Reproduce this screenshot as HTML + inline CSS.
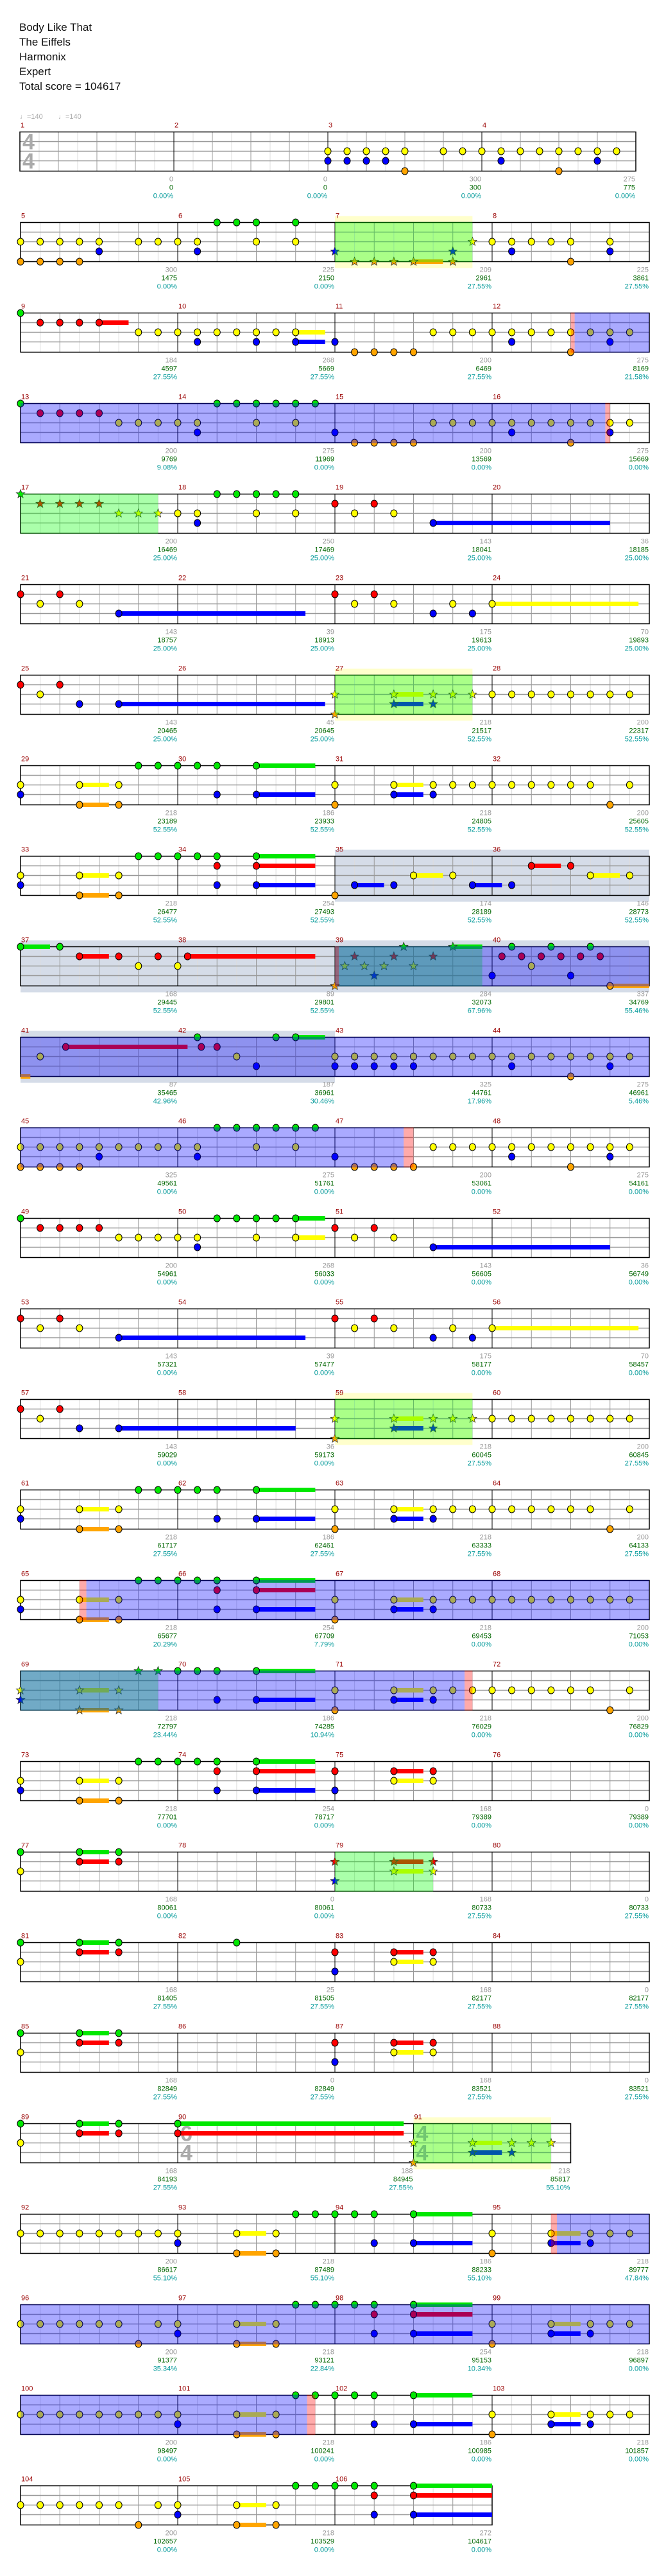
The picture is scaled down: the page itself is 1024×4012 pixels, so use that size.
<!DOCTYPE html>
<html><head><meta charset="utf-8">
<style>
html,body{margin:0;padding:0;background:#fff;}
#c{width:1024px;height:4012px;position:relative;overflow:hidden;}
svg text{font-family:"Liberation Sans Narrow","Liberation Sans",sans-serif;}
</style></head>
<body><div id="c"></div>
<script>
var rows=[
{m:1,x0:31,w:30,ts:[[0,'4','4']],n:"16:yb 17:yb 18:yb 19:yb 20:yo 22:y 23:y 24:y 25:yb 26:y 27:y 28:yo 29:y 30:yb 31:y",s:"",r:"",t:[[0,0,"0.00%"],[0,0,"0.00%"],[300,300,"0.00%"],[275,775,"0.00%"]]},
{m:5,n:"0:yo 1:yo 2:yo 3:yo 4:yb 6:y 7:y 8:y 9:yb 10:g 11:g 12:gy 14:gy 16:b* 17:o* 18:o* 19:o* 20:o* 22:bo* 23:y* 24:y 25:yb 26:y 27:y 28:yo 30:yb",s:"20-21.5:o",r:"Y16-23 G16-23",t:[[300,1475,"0.00%"],[225,2150,"0.00%"],[209,2961,"27.55%"],[225,3861,"27.55%"]]},
{m:9,n:"0:g 1:r 2:r 3:r 4:r 6:y 7:y 8:y 9:yb 10:y 11:y 12:yb 13:y 14:yb 16:b 17:o 18:o 19:o 20:o 21:y 22:y 23:y 24:y 25:yb 26:y 27:y 28:yo 29:y 30:yb 31:y",s:"4-5.5:r 14-15.5:y 14-15.5:b",r:"P28-28.2 B28.2-32",t:[[184,4597,"27.55%"],[268,5669,"27.55%"],[200,6469,"27.55%"],[275,8169,"21.58%"]]},
{m:13,n:"0:g 1:r 2:r 3:r 4:r 5:y 6:y 7:y 8:y 9:yb 10:g 11:g 12:gy 13:g 14:gy 15:g 16:b 17:o 18:o 19:o 20:o 21:y 22:y 23:y 24:y 25:yb 26:y 27:y 28:yo 29:y 30:yb 31:y",s:"",r:"B0-29.76 P29.76-30",t:[[200,9769,"9.08%"],[275,11969,"0.00%"],[200,13569,"0.00%"],[275,15669,"0.00%"]]},
{m:17,n:"0:g* 1:r* 2:r* 3:r* 4:r* 5:y* 6:y* 7:y* 8:y 9:yb 10:g 11:g 12:gy 13:g 14:gy 16:r 17:y 18:r 19:y 21:b",s:"21-30:b",r:"G0-7",t:[[200,16469,"25.00%"],[250,17469,"25.00%"],[143,18041,"25.00%"],[36,18185,"25.00%"]]},
{m:21,n:"0:r 1:y 2:r 3:y 5:b 16:r 17:y 18:r 19:y 21:b 22:y 23:b 24:y",s:"5-14.5:b 24-31.45:y",r:"",t:[[143,18757,"25.00%"],[39,18913,"25.00%"],[175,19613,"25.00%"],[70,19893,"25.00%"]]},
{m:25,n:"0:r 1:y 2:r 3:b 5:b 16:yo* 19:yb* 21:yb* 22:y* 23:y* 24:y 25:y 26:y 27:y 28:y 29:y 30:y 31:y",s:"5-15.5:b 19-20.5:y 19-20.5:b",r:"Y16-23 G16-23",t:[[143,20465,"25.00%"],[45,20645,"25.00%"],[218,21517,"52.55%"],[200,22317,"52.55%"]]},
{m:29,n:"0:yb 3:yo 5:yo 6:g 7:g 8:g 9:g 10:gb 12:gb 16:yo 19:yb 21:yb 22:y 23:y 24:y 25:y 26:y 27:y 28:y 29:y 30:o 31:y",s:"3-4.5:y 3-4.5:o 12-15:g 12-15:b 19-20.5:y 19-20.5:b",r:"",t:[[218,23189,"52.55%"],[186,23933,"52.55%"],[218,24805,"52.55%"],[200,25605,"52.55%"]]},
{m:33,n:"0:yb 3:yo 5:yo 6:g 7:g 8:g 9:g 10:grb 12:grb 16:o 17:b 19:b 20:y 22:y 23:b 25:b 26:r 28:r 29:y 31:y",s:"3-4.5:y 3-4.5:o 12-15:g 12-15:r 12-15:b 17-18.5:b 20-21.5:y 23-24.5:b 26-27.5:r 29-30.5:y",r:"S16-32",t:[[218,26477,"52.55%"],[254,27493,"52.55%"],[174,28189,"52.55%"],[146,28773,"52.55%"]]},
{m:37,n:"0:g 2:g 3:r 5:r 6:y 7:r 8:y 8.5:r 16:o* 16.5:y* 17:r* 17.5:y* 18:b* 18.5:y* 19:r* 19.5:g* 20:y* 21:r* 22:g* 24:b 24.5:r 25:g 25.5:r 26:y 26.5:r 27:g 27.5:r 28:b 28.5:r 29:g 29.5:r 30:o",s:"0-1.5:g 3-4.5:r 8.5-15:r 22-23.5:g 30-32:o",r:"S0-32 G16-23.5 B16-32 P16-16.2",t:[[168,29445,"52.55%"],[89,29801,"52.55%"],[284,32073,"67.96%"],[337,34769,"55.46%"]]},
{m:41,n:"1:y 2.3:r 9:g 9.2:r 10:r 11:y 12:b 13:g 14:g 16:yb 17:yb 18:yb 19:yb 20:yb 21:y 22:y 23:y 24:y 25:yb 26:y 27:y 28:yo 29:y 30:yb 31:y",s:"0-0.5:o 2.3-8.5:r 14-15.5:g",r:"S0-16 B0-32",t:[[87,35465,"42.96%"],[187,36961,"30.46%"],[325,44761,"17.96%"],[275,46961,"5.46%"]]},
{m:45,n:"0:yo 1:yo 2:yo 3:yo 4:yb 5:y 6:y 7:y 8:y 9:yb 10:g 11:g 12:gy 13:g 14:gy 15:g 16:b 17:o 18:o 19:o 20:o 21:y 22:y 23:y 24:y 25:yb 26:y 27:y 28:yo 29:y 30:yb 31:y",s:"",r:"B0-19.5 P19.5-20",t:[[325,49561,"0.00%"],[275,51761,"0.00%"],[200,53061,"0.00%"],[275,54161,"0.00%"]]},
{m:49,n:"0:g 1:r 2:r 3:r 4:r 5:y 6:y 7:y 8:y 9:yb 10:g 11:g 12:gy 13:g 14:gy 16:r 17:y 18:r 19:y 21:b",s:"14-15.5:g 14-15.5:y 21-30:b",r:"",t:[[200,54961,"0.00%"],[268,56033,"0.00%"],[143,56605,"0.00%"],[36,56749,"0.00%"]]},
{m:53,n:"0:r 1:y 2:r 3:y 5:b 16:r 17:y 18:r 19:y 21:b 22:y 23:b 24:y",s:"5-14.5:b 24-31.45:y",r:"",t:[[143,57321,"0.00%"],[39,57477,"0.00%"],[175,58177,"0.00%"],[70,58457,"0.00%"]]},
{m:57,n:"0:r 1:y 2:r 3:b 5:b 16:yo* 19:yb* 21:yb* 22:y* 23:y* 24:y 25:y 26:y 27:y 28:y 29:y 30:y 31:y",s:"5-14:b 19-20.5:y 19-20.5:b",r:"Y16-23 G16-23",t:[[143,59029,"0.00%"],[36,59173,"0.00%"],[218,60045,"27.55%"],[200,60845,"27.55%"]]},
{m:61,n:"0:yb 3:yo 5:yo 6:g 7:g 8:g 9:g 10:gb 12:gb 16:yo 19:yb 21:yb 22:y 23:y 24:y 25:y 26:y 27:y 28:y 29:y 30:o 31:y",s:"3-4.5:y 3-4.5:o 12-15:g 12-15:b 19-20.5:y 19-20.5:b",r:"",t:[[218,61717,"27.55%"],[186,62461,"27.55%"],[218,63333,"27.55%"],[200,64133,"27.55%"]]},
{m:65,n:"0:yb 3:yo 5:yo 6:g 7:g 8:g 9:g 10:grb 12:grb 16:yo 19:yb 21:yb 22:y 23:y 24:y 25:y 26:y 27:y 28:y 29:y 30:y 31:y",s:"3-4.5:y 3-4.5:o 12-15:g 12-15:r 12-15:b 19-20.5:y 19-20.5:b",r:"P3-3.35 B3.35-32",t:[[218,65677,"20.29%"],[254,67709,"7.79%"],[218,69453,"0.00%"],[200,71053,"0.00%"]]},
{m:69,n:"0:yb* 3:yo* 5:yo* 6:g* 7:g* 8:g 9:g 10:gb 12:gb 16:yo 19:yb 21:yb 22:y 23:y 24:y 25:y 26:y 27:y 28:y 29:y 30:o 31:y",s:"3-4.5:y 3-4.5:o 12-15:g 12-15:b 19-20.5:y 19-20.5:b",r:"G0-7 B0-22.6 P22.6-23",t:[[218,72797,"23.44%"],[186,74285,"10.94%"],[218,76029,"0.00%"],[200,76829,"0.00%"]]},
{m:73,n:"0:yb 3:yo 5:yo 6:g 7:g 8:g 9:g 10:grb 12:grb 16:rb 19:ry 21:ry",s:"3-4.5:y 3-4.5:o 12-15:g 12-15:r 12-15:b 19-20.5:r 19-20.5:y",r:"",t:[[218,77701,"0.00%"],[254,78717,"0.00%"],[168,79389,"0.00%"],[0,79389,"0.00%"]]},
{m:77,n:"0:gy 3:gr 5:gr 16:rb* 19:ry* 21:ry*",s:"3-4.5:g 3-4.5:r 19-20.5:r 19-20.5:y",r:"G16-21",t:[[168,80061,"0.00%"],[0,80061,"0.00%"],[168,80733,"27.55%"],[0,80733,"27.55%"]]},
{m:81,n:"0:gy 3:gr 5:gr 11:g 16:rb 19:ry 21:ry",s:"3-4.5:g 3-4.5:r 19-20.5:r 19-20.5:y",r:"",t:[[168,81405,"27.55%"],[25,81505,"27.55%"],[168,82177,"27.55%"],[0,82177,"27.55%"]]},
{m:85,n:"0:gy 3:gr 5:gr 16:rb 19:ry 21:ry",s:"3-4.5:g 3-4.5:r 19-20.5:r 19-20.5:y",r:"",t:[[168,82849,"27.55%"],[0,82849,"27.55%"],[168,83521,"27.55%"],[0,83521,"27.55%"]]},
{m:89,b:[0,8,20,28],ts:[[8,'6','4'],[20,'4','4']],n:"0:gy 3:gr 5:gr 8:gr 20:yo* 23:yb* 25:yb* 26:y* 27:y*",s:"3-4.5:g 3-4.5:r 8-19.5:g 8-19.5:r 23-24.5:y 23-24.5:b",r:"Y20-27 G20-27",t:[[168,84193,"27.55%"],[188,84945,"27.55%"],[218,85817,"55.10%"]]},
{m:92,n:"0:y 1:y 2:y 3:y 4:y 5:y 6:y 7:y 8:yb 11:yo 13:yo 14:g 15:g 16:g 17:g 18:gb 20:gb 24:yo 27:yb 29:yb 30:y 31:y",s:"11-12.5:y 11-12.5:o 20-23:g 20-23:b 27-28.5:y 27-28.5:b",r:"P27-27.3 B27.3-32",t:[[200,86617,"55.10%"],[218,87489,"55.10%"],[186,88233,"55.10%"],[218,89777,"47.84%"]]},
{m:96,n:"0:y 1:y 2:y 3:y 4:y 5:y 6:o 7:y 8:yb 11:yo 13:yo 14:g 15:g 16:g 17:g 18:grb 20:grb 24:yo 27:yb 29:yb 30:y 31:y",s:"11-12.5:y 11-12.5:o 20-23:g 20-23:r 20-23:b 27-28.5:y 27-28.5:b",r:"B0-32",t:[[200,91377,"35.34%"],[218,93121,"22.84%"],[254,95153,"10.34%"],[218,96897,"0.00%"]]},
{m:100,n:"0:y 1:y 2:y 3:y 4:y 5:y 6:y 7:y 8:yb 11:yo 13:yo 14:g 15:g 16:g 17:g 18:gb 20:gb 24:yo 27:yb 29:yb 30:y 31:y",s:"11-12.5:y 11-12.5:o 20-23:g 20-23:b 27-28.5:y 27-28.5:b",r:"B0-14.58 P14.58-15",t:[[200,98497,"0.00%"],[218,100241,"0.00%"],[186,100985,"0.00%"],[218,101857,"0.00%"]]},
{m:104,b:[0,8,16,24],n:"0:y 1:y 2:y 3:y 4:y 5:y 6:o 7:y 8:yb 11:yo 13:yo 14:g 15:g 16:g 17:g 18:grb 20:grb",s:"11-12.5:y 11-12.5:o 20-24:g 20-24:r 20-24:b",r:"",t:[[200,102657,"0.00%"],[218,103529,"0.00%"],[272,104617,"0.00%"]]}
];
var LY={g:0,r:15,y:30,b:45,o:61};
var LC={g:"#00e800",r:"#ff0000",y:"#ffff00",b:"#0000ff",o:"#ffa500"};
var o=[];
o.push('<svg xmlns="http://www.w3.org/2000/svg" width="1024" height="4012" viewBox="0 0 1024 4012">');
o.push('<rect width="1024" height="4012" fill="#fff"/>');
var ttl=["Body Like That","The Eiffels","Harmonix","Expert","Total score = 104617"];
ttl.forEach(function(s,i){o.push('<text x="30" y="'+(48+23*i)+'" font-size="17" fill="#111" style="font-family:\'Liberation Sans\',sans-serif">'+s+'</text>');});
o.push('<text x="31" y="185" font-size="11" fill="#aaa">&#9833;=140</text>');
o.push('<text x="91" y="185" font-size="11" fill="#aaa">&#9833;=140</text>');
function star(cx,cy,R,r){var p=[];for(var k=0;k<10;k++){var a=-Math.PI/2+k*Math.PI/5,rr=k%2?r:R;p.push((cx+rr*Math.cos(a)).toFixed(1)+','+(cy+rr*Math.sin(a)).toFixed(1));}return p.join(' ');}
rows.forEach(function(R,i){
  var top=205.5+141*i,bot=top+61;
  var x0=R.x0||32,w=R.w||30.625,b=R.b||[0,8,16,24,32],N=b[b.length-1];
  var X=function(t){return x0+t*w;};
  var xe=X(N);
  var regs=R.r?R.r.split(' '):[];
  // ext backgrounds
  regs.forEach(function(g){var k=g[0],p=g.slice(1).split('-'),a=X(+p[0]),c=X(+p[1]);
    if(k=='Y')o.push('<rect x="'+a+'" y="'+(top-10)+'" width="'+(c-a)+'" height="81" fill="#ffffcc"/>');
    if(k=='S')o.push('<rect x="'+a+'" y="'+(top-10)+'" width="'+(c-a)+'" height="81" fill="#d5dce8"/>');});
  // grid
  for(var t=1;t<N;t++){if(b.indexOf(t)>=0)continue;var c=(t%2)?"#dcdcdc":"#999";o.push('<line x1="'+X(t)+'" y1="'+top+'" x2="'+X(t)+'" y2="'+bot+'" stroke="'+c+'" stroke-width="1"/>');}
  [15,30,45].forEach(function(d){o.push('<line x1="'+x0+'" y1="'+(top+d)+'" x2="'+xe+'" y2="'+(top+d)+'" stroke="#999" stroke-width="1.5"/>');});
  b.forEach(function(t){o.push('<line x1="'+X(t)+'" y1="'+top+'" x2="'+X(t)+'" y2="'+bot+'" stroke="#000" stroke-width="1"/>');});
  o.push('<rect x="'+x0+'" y="'+top+'" width="'+(xe-x0)+'" height="61" fill="none" stroke="#000" stroke-width="1.5"/>');
  // time sigs
  (R.ts||[]).forEach(function(s){var x=X(s[0])+4;o.push('<text x="'+x+'" y="'+(top+27)+'" font-size="34" font-weight="bold" fill="#aaa" style="font-family:\'Liberation Sans\',sans-serif">'+s[1]+'</text><text x="'+x+'" y="'+(top+57)+'" font-size="34" font-weight="bold" fill="#aaa" style="font-family:\'Liberation Sans\',sans-serif">'+s[2]+'</text>');});
  // sustains
  if(R.s)R.s.split(' ').forEach(function(s){var p=s.split(':'),q=p[0].split('-'),l=p[1];var a=X(+q[0]),c=X(+q[1]);o.push('<rect x="'+a+'" y="'+(top+LY[l]-3.5)+'" width="'+(c-a)+'" height="7" fill="'+LC[l]+'"/>');});
  // notes
  R.n.split(' ').forEach(function(s){var p=s.split(':'),t=+p[0],ls=p[1],st=ls.indexOf('*')>=0;ls=ls.replace('*','');
    for(var k=0;k<ls.length;k++){var l=ls[k],cx=X(t),cy=top+LY[l];
      if(st)o.push('<polygon points="'+star(cx,cy,7,3)+'" fill="'+LC[l]+'" stroke="#333" stroke-width="0.8"/>');
      else o.push('<ellipse cx="'+cx+'" cy="'+cy+'" rx="5" ry="5.5" fill="'+LC[l]+'" stroke="#000" stroke-width="1"/>');}});
  // overlays
  regs.forEach(function(g){var k=g[0],p=g.slice(1).split('-'),a=X(+p[0]),c=X(+p[1]);
    var col={G:"rgba(0,255,0,0.333)",B:"rgba(0,0,255,0.333)",P:"rgba(255,0,0,0.333)"}[k];
    if(col)o.push('<rect x="'+a+'" y="'+(top-0.75)+'" width="'+(c-a)+'" height="62.5" fill="'+col+'"/>');});
  // labels
  for(var k=0;k<b.length-1;k++){var x=X(b[k]);o.push('<text x="'+(x+1)+'" y="'+(top-7)+'" font-size="11" fill="#990000">'+(R.m+k)+'</text>');}
  R.t.forEach(function(v,k){var x=X(b[k+1])-1;
    o.push('<text x="'+x+'" y="'+(top+77)+'" font-size="11" fill="#999" text-anchor="end">'+v[0]+'</text>');
    o.push('<text x="'+x+'" y="'+(top+90)+'" font-size="11" fill="#006600" text-anchor="end">'+v[1]+'</text>');
    o.push('<text x="'+x+'" y="'+(top+103)+'" font-size="11" fill="#009999" text-anchor="end">'+v[2]+'</text>');});
});
o.push('</svg>');
document.getElementById('c').innerHTML=o.join('');
</script>
</body></html>
